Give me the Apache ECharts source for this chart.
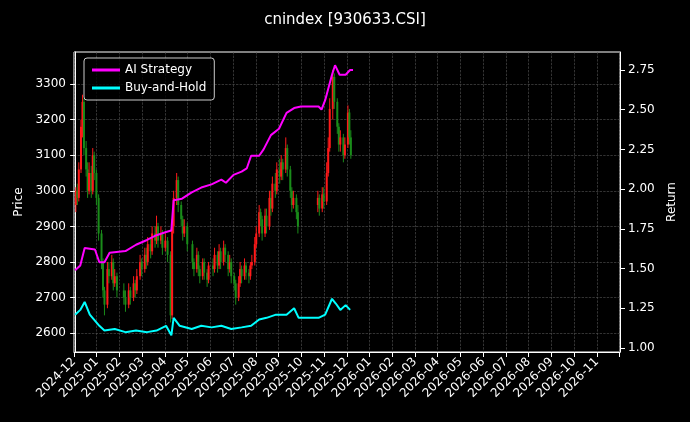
<!DOCTYPE html>
<html><head><meta charset="utf-8">
<script src="https://cdn.jsdelivr.net/npm/echarts@6/dist/echarts.min.js"></script>
<style>html,body{margin:0;background:#000}#c{width:690px;height:422px}</style>
</head><body><div id="c"></div>
<script>
const monthLabels=[];for(let i=0;i<24;i++){const y=2024+Math.floor((11+i)/12),m=(11+i)%12+1;monthLabels.push(y+'-'+String(m).padStart(2,'0'));}
const priceTicks=[2600,2700,2800,2900,3000,3100,3200,3300];
const returnTicks=[1.00,1.25,1.50,1.75,2.00,2.25,2.50,2.75];
// [date, open, close, low, high]
const candles=[
['2024-12-02',2960,3000,2940,3010],['2024-12-04',3000,2980,2960,3020],['2024-12-06',2980,3060,2970,3080],
['2024-12-09',3060,3180,3050,3200],['2024-12-11',3180,3250,3150,3270],['2024-12-13',3250,3120,3100,3260],
['2024-12-16',3120,3060,3040,3140],['2024-12-18',3060,3000,2980,3080],['2024-12-20',3000,3050,2990,3080],
['2024-12-23',3050,3000,2980,3070],['2024-12-25',3000,3100,2990,3120],['2024-12-27',3100,3050,3030,3110],
['2024-12-30',3050,2980,2960,3060],['2025-01-02',2980,2880,2860,2990],['2025-01-06',2880,2800,2780,2890],
['2025-01-08',2800,2720,2700,2810],['2025-01-10',2720,2680,2650,2730],['2025-01-14',2680,2780,2670,2800],
['2025-01-16',2780,2760,2740,2800],['2025-01-20',2760,2800,2750,2820],['2025-01-22',2800,2740,2720,2810],
['2025-01-24',2740,2760,2730,2780],['2025-01-27',2760,2720,2700,2770],['2025-02-05',2720,2700,2680,2740],
['2025-02-07',2700,2680,2660,2720],['2025-02-11',2680,2720,2670,2740],['2025-02-13',2720,2700,2680,2730],
['2025-02-17',2700,2740,2690,2760],['2025-02-19',2740,2720,2700,2750],['2025-02-21',2720,2760,2710,2780],
['2025-02-25',2760,2800,2750,2820],['2025-02-27',2800,2780,2760,2810],['2025-03-03',2780,2820,2770,2840],
['2025-03-05',2820,2800,2780,2840],['2025-03-07',2800,2850,2790,2870],['2025-03-11',2850,2830,2810,2870],
['2025-03-13',2830,2880,2820,2900],['2025-03-17',2880,2860,2840,2900],['2025-03-19',2860,2900,2850,2930],
['2025-03-21',2900,2860,2840,2910],['2025-03-25',2860,2880,2850,2900],['2025-03-27',2880,2840,2820,2890],
['2025-03-31',2840,2860,2830,2880],['2025-04-03',2860,2820,2800,2870],['2025-04-07',2820,2650,2630,2830],
['2025-04-09',2650,2900,2640,2920],['2025-04-11',2900,2980,2880,3000],['2025-04-15',2980,3030,2960,3050],
['2025-04-17',3030,2960,2940,3040],['2025-04-21',2960,2920,2900,2970],['2025-04-23',2920,2880,2860,2930],
['2025-04-25',2880,2900,2870,2920],['2025-04-29',2900,2850,2830,2910],['2025-05-06',2850,2800,2780,2860],
['2025-05-08',2800,2780,2760,2810],['2025-05-12',2780,2820,2770,2840],['2025-05-14',2820,2780,2760,2830],
['2025-05-16',2780,2760,2740,2790],['2025-05-20',2760,2800,2750,2810],['2025-05-22',2800,2770,2750,2810],
['2025-05-26',2770,2750,2730,2780],['2025-05-28',2750,2790,2740,2800],['2025-06-03',2790,2780,2760,2810],
['2025-06-05',2780,2820,2770,2840],['2025-06-09',2820,2790,2770,2830],['2025-06-11',2790,2830,2780,2850],
['2025-06-13',2830,2800,2780,2840],['2025-06-17',2800,2840,2790,2860],['2025-06-19',2840,2820,2800,2850],
['2025-06-23',2820,2780,2760,2830],['2025-06-25',2780,2800,2770,2820],['2025-06-27',2800,2760,2740,2810],
['2025-07-01',2760,2740,2720,2770],['2025-07-03',2740,2700,2680,2750],['2025-07-07',2700,2740,2690,2760],
['2025-07-09',2740,2780,2730,2800],['2025-07-11',2780,2760,2740,2790],['2025-07-15',2760,2790,2750,2810],
['2025-07-17',2790,2770,2750,2800],['2025-07-21',2770,2760,2740,2780],['2025-07-23',2760,2790,2750,2800],
['2025-07-25',2790,2800,2780,2820],['2025-07-29',2800,2850,2790,2870],['2025-07-31',2850,2880,2840,2900],
['2025-08-04',2880,2940,2870,2960],['2025-08-06',2940,2920,2900,2950],['2025-08-08',2920,2880,2860,2930],
['2025-08-12',2880,2930,2870,2950],['2025-08-14',2930,2900,2880,2950],['2025-08-18',2900,2980,2890,3000],
['2025-08-20',2980,2950,2930,3000],['2025-08-22',2950,3020,2940,3040],['2025-08-26',3020,3000,2980,3050],
['2025-08-28',3000,3060,2990,3080],['2025-09-01',3060,3040,3020,3090],['2025-09-03',3040,3080,3030,3100],
['2025-09-05',3080,3060,3030,3090],['2025-09-09',3060,3120,3050,3150],['2025-09-11',3120,3060,3040,3130],
['2025-09-15',3060,3000,2980,3070],['2025-09-17',3000,2960,2940,3010],['2025-09-19',2960,2980,2950,3000],
['2025-09-23',2980,2940,2920,2990],['2025-09-25',2940,2900,2880,2960],
['2025-10-22',2960,2980,2940,3000],['2025-10-24',2980,2950,2930,2990],['2025-10-28',2950,2990,2940,3010],
['2025-10-30',2990,2970,2950,3010],['2025-11-03',2970,3050,2960,3080],['2025-11-05',3050,3120,3040,3150],
['2025-11-07',3120,3230,3110,3260],['2025-11-11',3230,3320,3200,3340],['2025-11-13',3320,3250,3230,3330],
['2025-11-17',3250,3180,3160,3260],['2025-11-19',3180,3130,3110,3190],['2025-11-21',3130,3150,3110,3170],
['2025-11-25',3150,3100,3080,3160],['2025-11-27',3100,3130,3090,3150],['2025-12-01',3130,3220,3120,3240],
['2025-12-03',3220,3150,3130,3230],['2025-12-05',3150,3100,3090,3170]];
const strategy=[
['2024-12-01',1.49],['2024-12-08',1.52],['2024-12-14',1.63],['2024-12-28',1.62],['2025-01-03',1.54],['2025-01-10',1.54],
['2025-01-17',1.60],['2025-02-07',1.61],['2025-02-20',1.65],['2025-03-06',1.68],['2025-03-19',1.71],['2025-04-01',1.73],
['2025-04-08',1.74],['2025-04-11',1.93],['2025-04-22',1.94],['2025-05-05',1.98],['2025-05-18',2.01],['2025-06-01',2.03],
['2025-06-14',2.06],['2025-06-20',2.04],['2025-06-30',2.09],['2025-07-11',2.11],['2025-07-18',2.13],['2025-07-24',2.21],
['2025-08-04',2.21],['2025-08-10',2.25],['2025-08-20',2.34],['2025-08-31',2.38],['2025-09-10',2.48],['2025-09-20',2.51],
['2025-09-29',2.52],['2025-10-23',2.52],['2025-10-27',2.50],['2025-11-01',2.56],['2025-11-10',2.72],['2025-11-14',2.78],
['2025-11-20',2.72],['2025-11-28',2.72],['2025-12-04',2.75],['2025-12-08',2.75]];
const buyHold=[
['2024-12-01',1.21],['2024-12-08',1.24],['2024-12-14',1.29],['2024-12-21',1.21],['2025-01-03',1.14],['2025-01-10',1.11],
['2025-01-24',1.12],['2025-02-07',1.10],['2025-02-20',1.11],['2025-03-06',1.10],['2025-03-19',1.11],['2025-04-01',1.14],
['2025-04-08',1.08],['2025-04-11',1.19],['2025-04-19',1.14],['2025-05-05',1.12],['2025-05-18',1.14],['2025-06-01',1.13],
['2025-06-14',1.14],['2025-06-27',1.12],['2025-07-11',1.13],['2025-07-24',1.14],['2025-08-04',1.18],['2025-08-14',1.19],
['2025-08-27',1.21],['2025-09-10',1.21],['2025-09-20',1.25],['2025-09-26',1.19],['2025-10-23',1.19],['2025-11-01',1.21],
['2025-11-10',1.31],['2025-11-15',1.28],['2025-11-21',1.24],['2025-11-28',1.27],['2025-12-04',1.24]];

function toM(s){const [y,m,d]=s.split('-').map(Number);const dim=new Date(y,m,0).getDate();return (y-2024)*12+(m-12)+(d-1)/dim;}
const font='DejaVu Sans';
const chart=echarts.init(document.getElementById('c'));
chart.setOption({
 backgroundColor:'#000',animation:false,
 textStyle:{fontFamily:font,color:'#fff'},
 title:{text:'cnindex [930633.CSI]',left:'center',top:8,textStyle:{color:'#fff',fontFamily:font,fontSize:15,fontWeight:'normal'}},
 legend:{left:84,top:58,orient:'vertical',itemWidth:28,itemHeight:3,itemGap:6,padding:[6,8],
   borderColor:'#ccc',borderWidth:1,borderRadius:3,backgroundColor:'rgba(0,0,0,0.8)',
   textStyle:{color:'#fff',fontFamily:font,fontSize:12},data:['AI Strategy','Buy-and-Hold'],icon:'rect'},
 grid:{left:74,right:70,top:52,bottom:70,show:true,borderColor:'#fff',borderWidth:1,backgroundColor:'transparent'},
 xAxis:{type:'value',min:-0.05,max:23.97,interval:1,
   axisLine:{lineStyle:{color:'#fff'}},axisTick:{lineStyle:{color:'#fff'}},
   axisLabel:{color:'#fff',fontFamily:font,fontSize:12,rotate:45,showMaxLabel:false,formatter:v=>monthLabels[Math.round(v)]||''},
   splitLine:{show:true,lineStyle:{color:'#555',type:'dashed',width:0.6}}},
 yAxis:[
  {type:'value',min:2547,max:3390,name:'Price',nameLocation:'middle',nameGap:44,nameTextStyle:{color:'#fff',fontFamily:font,fontSize:12},
   axisLine:{show:true,lineStyle:{color:'#fff'}},axisTick:{show:true,customValues:priceTicks,lineStyle:{color:'#fff'}},
   axisLabel:{color:'#fff',fontFamily:font,fontSize:12,customValues:priceTicks,formatter:v=>String(v)},
   splitLine:{show:true,lineStyle:{color:'#555',type:'dashed',width:0.6}}},
  {type:'value',min:0.975,max:2.863,position:'right',name:'Return',nameLocation:'middle',nameGap:44,nameTextStyle:{color:'#fff',fontFamily:font,fontSize:12},
   axisLine:{show:true,lineStyle:{color:'#fff'}},axisTick:{show:true,customValues:returnTicks,lineStyle:{color:'#fff'}},
   axisLabel:{color:'#fff',fontFamily:font,fontSize:12,customValues:returnTicks,formatter:v=>v.toFixed(2)},
   splitLine:{show:false}}],
 series:[
  {type:'custom',name:'price',yAxisIndex:0,data:candles.map(c=>[toM(c[0]),c[1],c[2],c[3],c[4]]),
   renderItem:(p,api)=>{const x=api.value(0),o=api.value(1),c=api.value(2),l=api.value(3),h=api.value(4);
     const col=c>=o?'#ff1a1a':'#1a8c1a';const pl=api.coord([x,l]),ph=api.coord([x,h]),po=api.coord([x,o]),pc=api.coord([x,c]);
     const w=2;return {type:'group',children:[
      {type:'line',shape:{x1:pl[0],y1:pl[1],x2:ph[0],y2:ph[1]},style:{stroke:col,lineWidth:1}},
      {type:'rect',shape:{x:po[0]-w/2,y:Math.min(po[1],pc[1]),width:w,height:Math.max(1,Math.abs(po[1]-pc[1]))},style:{fill:col}}]};},
   encode:{x:0,y:[1,2,3,4]},z:1},
  {type:'line',name:'AI Strategy',yAxisIndex:1,data:strategy.map(d=>[toM(d[0]),d[1]]),showSymbol:false,lineStyle:{color:'#ff00ff',width:2},itemStyle:{color:'#ff00ff'},z:3},
  {type:'line',name:'Buy-and-Hold',yAxisIndex:1,data:buyHold.map(d=>[toM(d[0]),d[1]]),showSymbol:false,lineStyle:{color:'#00ffff',width:2},itemStyle:{color:'#00ffff'},z:3}
 ]
});
</script></body></html>
